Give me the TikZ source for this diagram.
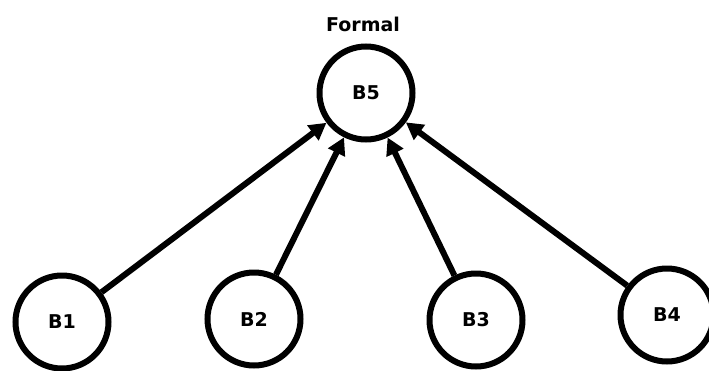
\documentclass[tikz,border=0pt]{standalone}
\usepackage{fontspec}
\setmainfont{DejaVu Sans}
\usetikzlibrary{arrows.meta,positioning,calc}

\begin{document}
\begin{tikzpicture}[x=1pt, y=-1pt,
    label text/.style={font=\bfseries\fontsize{19}{22}\selectfont},
    block/.style={circle, draw, line width=6pt, minimum size=93pt, inner sep=0pt, label text},
    link/.style={-{Triangle[length=17pt, width=18pt]}, line width=6pt}]
    \useasboundingbox (0,0) rectangle (709,370);

    % ---------------- Top block ----------------
    \node[block] (b5) at (366,93) {B5};
    \node[label text, anchor=base] (formal) at (363,31) {Formal};

    % ---------------- Bottom blocks ----------------
    \node[block] (b1) at (62,322) {B1};
    \node[block] (b2) at (254,319) {B2};
    \node[block] (b3) at (476,320) {B3};
    \node[block] (b4) at (667,315) {B4};

    % ---------------- Arrows ----------------
    \foreach \b in {b1,b2,b3,b4} {
        \draw[link] (\b) -- (b5);
    }

\end{tikzpicture}
\end{document}
